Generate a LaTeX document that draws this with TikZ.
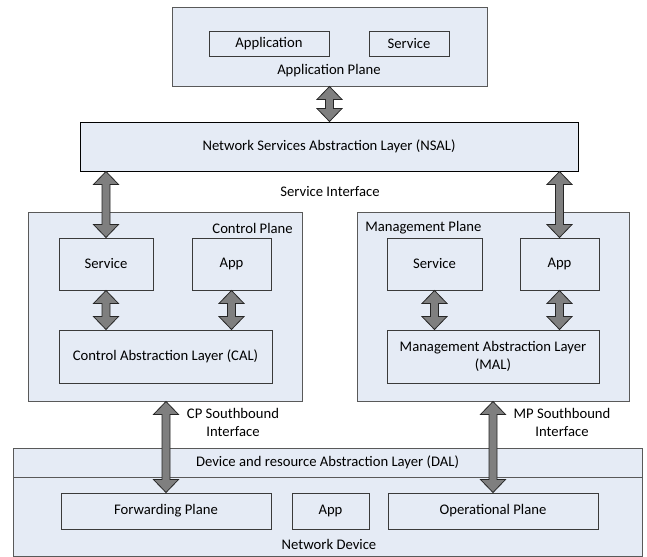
\documentclass[tikz,border=0pt]{standalone}
\usepackage{fontspec}
\setmainfont{Carlito}
\usetikzlibrary{fit,calc}
\definecolor{planefill}{HTML}{E5EBF5}
\definecolor{planeedge}{HTML}{595959}
\definecolor{boxedge}{HTML}{3A3A3A}
\definecolor{arrowfill}{HTML}{7F7F7F}
\definecolor{arrowedge}{HTML}{262626}

\begin{document}
\begin{tikzpicture}[x=0.75pt, y=-0.75pt,
    font=\fontsize{11}{13.5}\selectfont,
    plane/.style={draw=planeedge, fill=planefill, line width=0.75pt, inner sep=0pt},
    inbox/.style={draw=boxedge, line width=0.75pt, inner sep=0pt},
    lbl/.style={inner sep=0pt, align=center},
    blockarrow/.style={fill=arrowfill, draw=arrowedge, line width=0.6pt,
      to path={let \p1=(\tikztostart), \p2=(\tikztotarget) in
        (\x1,\y1) -- (\x1+9.4pt,\y1-9.75pt) -- (\x1+3pt,\y1-9.75pt) -- (\x1+3pt,\y2+9.75pt)
        -- (\x1+9.4pt,\y2+9.75pt) -- (\x1,\y2) -- (\x1-9.4pt,\y2+9.75pt) -- (\x1-3pt,\y2+9.75pt)
        -- (\x1-3pt,\y1-9.75pt) -- (\x1-9.4pt,\y1-9.75pt) -- cycle}},
  ]
  \useasboundingbox (0,0) rectangle (647,557);

  \node[plane, fit={(172,7) (487,86)}] (apl) {};
  \node[inbox, fit={(209,31) (329,56)}, label={[lbl]center:Application}] (aplapp) {};
  \node[inbox, fit={(369,31) (449,56)}, label={[lbl]center:Service}] (aplsvc) {};
  \node[lbl] (apltxt) at (329,71) {Application Plane};

  \node[plane, draw=black, fit={(80,122) (578,171)},
    label={[lbl]center:Network Services Abstraction Layer (NSAL)}] (nsal) {};
  \node[lbl] (sitxt) at (330,192) {Service Interface};

  \node[plane, fit={(28,212) (302,401)}] (cp) {};
  \node[lbl, anchor=east] (cptxt) at (293,228) {Control Plane};
  \node[inbox, fit={(59,238) (153,290)}, label={[lbl]center:Service}] (cpsvc) {};
  \node[inbox, fit={(192,238) (271,290)}, label={[lbl]center:App}] (cpapp) {};
  \node[inbox, fit={(59,330) (272,383)}, label={[lbl]center:Control Abstraction Layer (CAL)}] (cal) {};

  \node[plane, fit={(357,212) (629,401)}] (mp) {};
  \node[lbl, anchor=west] (mptxt) at (365,228) {Management Plane};
  \node[inbox, fit={(387,238) (482,290)}, label={[lbl]center:Service}] (mpsvc) {};
  \node[inbox, fit={(520,238) (599,290)}, label={[lbl]center:App}] (mpapp) {};
  \node[inbox, fit={(387,330) (599,383)},
    label={[lbl]center:Management Abstraction Layer\\(MAL)}] (mal) {};

  \node[lbl] (cpsbi) at (233,422) {CP Southbound\\Interface};
  \node[lbl] (mpsbi) at (562,422) {MP Southbound\\Interface};

  \node[plane, fit={(13,448) (642,477)},
    label={[lbl]center:Device and resource Abstraction Layer (DAL)}] (dal) {};
  \node[plane, fit={(13,477) (642,556)}] (nd) {};
  \node[inbox, fit={(61,493) (271,529)}, label={[lbl]center:Forwarding Plane}] (fwd) {};
  \node[inbox, fit={(292,493) (369,529)}, label={[lbl]center:App}] (ndapp) {};
  \node[inbox, fit={(388,493) (598,529)}, label={[lbl]center:Operational Plane}] (opl) {};
  \node[lbl] (ndtxt) at (329,544) {Network Device};

  \draw[blockarrow] (apl.south) to (nsal.north -| apl.south);
  \draw[blockarrow] (nsal.south -| cpsvc.north) to (cpsvc.north);
  \draw[blockarrow] (nsal.south -| mpapp.north) to (mpapp.north);
  \draw[blockarrow] (cpsvc.south) to (cal.north -| cpsvc.south);
  \draw[blockarrow] (cpapp.south) to (cal.north -| cpapp.south);
  \draw[blockarrow] (mpsvc.south) to (mal.north -| mpsvc.south);
  \draw[blockarrow] (mpapp.south) to (mal.north -| mpapp.south);
  \draw[blockarrow] (cp.south -| fwd.north) to (fwd.north);
  \draw[blockarrow] (mp.south -| opl.north) to (opl.north);
\end{tikzpicture}
\end{document}
